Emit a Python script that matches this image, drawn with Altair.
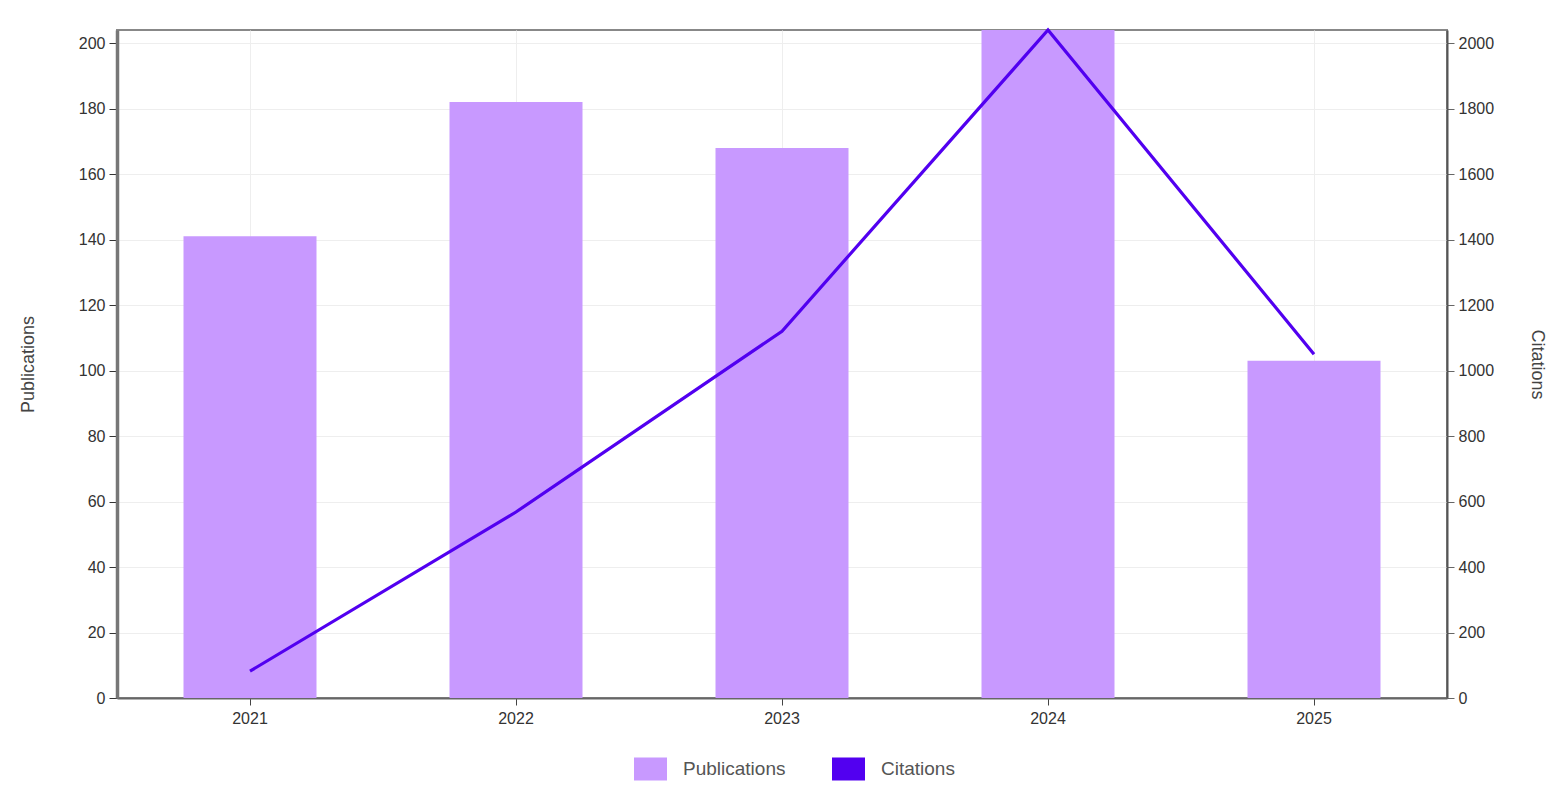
import altair as alt
import pandas as pd

years = ["2021", "2022", "2023", "2024", "2025"]
publications = [141, 182, 168, 204, 103]
citations = [82, 568, 1120, 2040, 1050]
series_names = ["Publications", "Citations"]
series_colors = ["#C899FF", "#5200F0"]

df = pd.DataFrame({"year": years, "pubs": publications, "cites": citations,
                   "series": ["Publications"] * len(years)})

FONT = "Liberation Sans"

x = alt.X("year:N", title=None,
          scale=alt.Scale(paddingInner=0.5, paddingOuter=0.25),
          axis=alt.Axis(labelAngle=0, labelFontSize=16, labelColor="#333", labelFont=FONT,
                        domainColor="#666", domainWidth=2, tickColor="#444", tickSize=7,
                        labelPadding=5, grid=True, gridColor="#eeeeee", bandPosition=0.5))

bars = alt.Chart(df).mark_bar(opacity=1).encode(
    x=x,
    y=alt.Y("pubs:Q", title="Publications",
            scale=alt.Scale(domain=[0, 204], nice=False),
            axis=alt.Axis(values=list(range(0, 201, 20)), orient="left",
                          labelFontSize=16, labelColor="#333", labelFont=FONT,
                          titleFontSize=18, titleFont=FONT, titleColor="#444", titleFontWeight="normal",
                          titlePadding=41, domainColor="#777", domainWidth=3.5,
                          tickColor="#333", tickSize=8, labelPadding=4,
                          grid=True, gridColor="#eeeeee")),
    color=alt.Color("series:N", scale=alt.Scale(domain=series_names, range=series_colors),
                    legend=alt.Legend(title=None, orient="none", direction="horizontal",
                                      legendX=517, legendY=722,
                                      symbolType="M-1,-0.7L1,-0.7L1,0.7L-1,0.7Z",
                                      symbolSize=1089, symbolStrokeWidth=0,
                                      labelFontSize=19, labelFont=FONT, labelColor="#555",
                                      labelOffset=16, columnPadding=46)),
)

line = alt.Chart(df).mark_line(color="#5200F0", strokeWidth=3.2).encode(
    x=x,
    y=alt.Y("cites:Q", title="Citations",
            scale=alt.Scale(domain=[0, 2040], nice=False),
            axis=alt.Axis(values=list(range(0, 2001, 200)), orient="right", format="d",
                          labelFontSize=16, labelColor="#333", labelFont=FONT,
                          titleFontSize=18, titleFont=FONT, titleColor="#444", titleFontWeight="normal",
                          titlePadding=34, domainColor="#555", domainWidth=2,
                          tickColor="#666", tickSize=7, labelPadding=4, grid=False)),
)

chart = alt.layer(bars, line).resolve_scale(y="independent").properties(
    width=1330, height=668,
    padding={"left": 11, "top": 15, "right": 5, "bottom": 5},
).configure_view(stroke="#888", strokeWidth=2)

chart.save("out.html", embed_options={"renderer": "svg", "actions": False})
